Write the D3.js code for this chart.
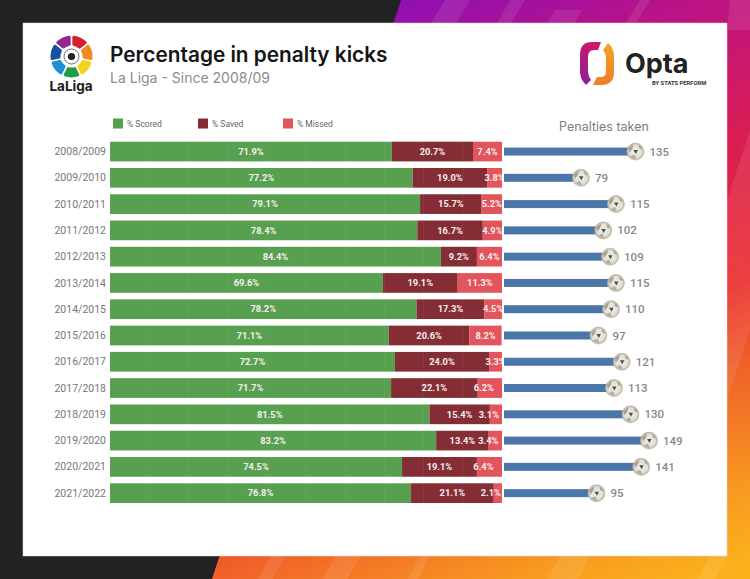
<!DOCTYPE html>
<html>
<head>
<meta charset="utf-8">
<script src="https://cdn.jsdelivr.net/npm/d3@7"></script>
<style>
html, body { margin: 0; padding: 0; background: #222; }
svg { display: block; }
text { font-family: Roboto, sans-serif; }
</style>
</head>
<body>
<div id="chart"></div>
<script>
// data
const seasons = ['2008/2009', '2009/2010', '2010/2011', '2011/2012', '2012/2013', '2013/2014', '2014/2015',
    '2015/2016', '2016/2017', '2017/2018', '2018/2019', '2019/2020', '2020/2021', '2021/2022'];
const scored = [71.9, 77.2, 79.1, 78.4, 84.4, 69.6, 78.2, 71.1, 72.7, 71.7, 81.5, 83.2, 74.5, 76.8];
const saved = [20.7, 19.0, 15.7, 16.7, 9.2, 19.1, 17.3, 20.6, 24.0, 22.1, 15.4, 13.4, 19.1, 21.1];
const missed = [7.4, 3.8, 5.2, 4.9, 6.4, 11.3, 4.5, 8.2, 3.3, 6.2, 3.1, 3.4, 6.4, 2.1];
const penalties = [135, 79, 115, 102, 109, 115, 110, 97, 121, 113, 130, 149, 141, 95];
const legendLabels = ['% Scored', '% Saved', '% Missed'];
const partColors = ['#57a04f', '#852d35', '#e2555c'];

// the labels of these seasons do not sit in the middle of their segment
const missedLabelShift = { '2017/2018': -6, '2018/2019': -7, '2019/2020': -7, '2020/2021': -6, '2021/2022': -7 };

const width = 750, height = 579;
const svg = d3.select('#chart').append('svg').attr('width', width).attr('height', height);
const defs = svg.append('defs');

// background
const bgGrad = defs.append('linearGradient').attr('id', 'bg-grad')
    .attr('gradientUnits', 'userSpaceOnUse')
    .attr('x1', 400).attr('y1', 0).attr('x2', 640).attr('y2', 600);
[[0, '#8f0fb4'], [0.2, '#c0147f'], [0.42, '#dd1f4d'], [0.6, '#ea2c2c'], [0.72, '#f0602a'], [0.9, '#f89a20'], [1, '#fbb01c']]
    .forEach(s => bgGrad.append('stop').attr('offset', s[0]).attr('stop-color', s[1]));

svg.append('rect').attr('width', width).attr('height', height).attr('fill', '#222222');
svg.append('path').attr('d', 'M401,0 L750,0 L750,579 L212,579 Z').attr('fill', 'url(#bg-grad)');

// light streaks in the background
const streaks = ['M445,0 L470,0 L456,23 L431,23 Z', 'M510,0 L525,0 L511,23 L497,23 Z', 'M555,10 L582,10 L575,23 L548,23 Z',
    'M640,0 L650,0 L636,23 L626,23 Z', 'M730,0 L750,0 L750,30 L727,30 Z', 'M727,200 L750,130 L750,330 L727,400 Z',
    'M270,556 L285,556 L273,579 L258,579 Z', 'M335,556 L360,556 L348,579 L323,579 Z', 'M420,556 L430,556 L418,579 L408,579 Z',
    'M560,556 L590,556 L578,579 L548,579 Z', 'M710,556 L727,556 L715,579 L698,579 Z'];
svg.selectAll('path.streak').data(streaks).enter().append('path')
    .attr('class', 'streak').attr('d', d => d).attr('fill', '#fff').attr('opacity', 0.09);

// white panel
svg.append('rect').attr('x', 23).attr('y', 23).attr('width', 704).attr('height', 533)
    .attr('fill', '#fff').attr('stroke', '#ddd').attr('stroke-width', 0.5);

// titles
svg.append('text').attr('x', 110).attr('y', 62).attr('font-size', 20.8).attr('font-weight', 600)
    .style('font-family', 'Inter, sans-serif').attr('fill', '#151515').text('Percentage in penalty kicks');
svg.append('text').attr('x', 110).attr('y', 83).attr('font-size', 14)
    .style('font-family', 'Inter, sans-serif').attr('fill', '#8c8c8c').text('La Liga - Since 2008/09');

// LaLiga logo
const wheelColors = ['#d3202f', '#f08a24', '#f6d21e', '#1f9a48', '#1c8fd6', '#17509f', '#93278f'];
const wheelArc = d3.arc().innerRadius(11).outerRadius(21).padAngle(0.07).cornerRadius(1.5);
const wheelPie = d3.pie().value(1).sort(null).startAngle(0).endAngle(2 * Math.PI);
const wheel = svg.append('g').attr('transform', 'translate(71.5,56.5)');
wheel.selectAll('path').data(wheelPie(wheelColors)).enter().append('path')
    .attr('d', wheelArc).attr('fill', d => d.data);
wheel.append('circle').attr('r', 7.5).attr('fill', '#fff').attr('stroke', '#333').attr('stroke-width', 0.7);
wheel.append('circle').attr('r', 3.6).attr('fill', '#222');
svg.append('text').attr('x', 71).attr('y', 91).attr('text-anchor', 'middle').attr('font-size', 13.5)
    .attr('font-weight', 700).style('font-family', 'Inter, sans-serif').attr('fill', '#1a1a1a').text('LaLiga');

// Opta logo
const optaLeft = defs.append('linearGradient').attr('id', 'opta-left').attr('x1', 0.6).attr('y1', 0).attr('x2', 0.3).attr('y2', 1);
optaLeft.append('stop').attr('offset', 0).attr('stop-color', '#cf1765');
optaLeft.append('stop').attr('offset', 1).attr('stop-color', '#8d1f9b');
const optaRight = defs.append('linearGradient').attr('id', 'opta-right').attr('x1', 0).attr('y1', 0).attr('x2', 0).attr('y2', 1);
optaRight.append('stop').attr('offset', 0).attr('stop-color', '#f6a321');
optaRight.append('stop').attr('offset', 1).attr('stop-color', '#ef7d22');
svg.append('path').attr('fill', 'url(#opta-left)')
    .attr('d', 'M601,42 L592,42 Q580,42 580,55 L580,72 Q580,79 586,85 L591,80 Q588,76 588,71 L588,57 Q588,50 594,50 L598,50 Z');
svg.append('path').attr('fill', 'url(#opta-right)')
    .attr('d', 'M603,50 L608,43 Q614,48 614,57 L614,72 Q614,85 601,85 L593,85 L597,77 L601,77 Q606,77 606,71 L606,57 Q606,53 603,50 Z');
svg.append('text').attr('x', 625).attr('y', 73).attr('font-size', 27).attr('font-weight', 700)
    .style('font-family', 'Inter, sans-serif').attr('fill', '#222').text('Opta');
svg.append('text').attr('x', 652).attr('y', 85).attr('font-size', 5.8).attr('font-weight', 700)
    .attr('fill', '#333').text('BY STATS PERFORM');

// scales
const y = d3.scaleBand().domain(seasons).range([141.7, 503]).paddingInner(0.25).paddingOuter(0);
const x = d3.scaleLinear().domain([0, 100]).range([110, 502]);
const xPen = d3.scaleLinear().domain([0, 149]).range([504, 649]);

// season labels
const yAxis = svg.append('g').attr('transform', 'translate(106,0)').call(d3.axisLeft(y).tickSize(0));
yAxis.select('.domain').remove();
yAxis.selectAll('text').attr('font-size', 10.5).attr('fill', '#777').attr('dy', '0.34em')
    .style('font-family', 'Roboto, sans-serif').attr('x', 0);

// legend
const legendX = d3.scaleOrdinal().domain(legendLabels).range([113, 198, 283]);
const legend = svg.selectAll('g.legend').data(legendLabels).enter().append('g').attr('class', 'legend')
    .attr('transform', d => `translate(${legendX(d)},118.5)`);
legend.append('rect').attr('width', 10).attr('height', 10).attr('fill', (d, i) => partColors[i]);
legend.append('text').attr('x', 14).attr('y', 8.5).attr('font-size', 8.5).attr('fill', '#666').text(d => d);

svg.append('text').attr('x', 604).attr('y', 131).attr('text-anchor', 'middle').attr('font-size', 12.5)
    .style('font-family', 'Inter, sans-serif').attr('fill', '#7d7d7d').text('Penalties taken');

// stacked bars
const rows = seasons.map((s, i) => ({ season: s, scored: scored[i], saved: saved[i], missed: missed[i], penalties: penalties[i] }));
const stack = d3.stack().keys(['scored', 'saved', 'missed']);
const layers = stack(rows);

defs.append('clipPath').attr('id', 'bar-clip').append('rect')
    .attr('x', x(0)).attr('y', 130).attr('width', x(100) - x(0)).attr('height', 390);

layers.forEach((layer, k) => {
    const g = svg.append('g');
    g.selectAll('rect').data(layer).enter().append('rect')
        .attr('x', d => x(d[0]))
        .attr('y', d => y(d.data.season))
        .attr('width', d => x(d[1]) - x(d[0]))
        .attr('height', y.bandwidth())
        .attr('fill', partColors[k]);
});

// faint grid on top of the bars
svg.append('g').selectAll('line').data(x.ticks(10)).enter().append('line')
    .attr('x1', d => x(d)).attr('x2', d => x(d)).attr('y1', 141.7).attr('y2', 503)
    .attr('stroke', '#fff').attr('stroke-opacity', 0.06);

// percentage labels, clipped at the end of the bar like the original
const labelGroup = svg.append('g').attr('clip-path', 'url(#bar-clip)');
layers.forEach((layer, k) => {
    labelGroup.append('g').selectAll('text').data(layer).enter().append('text')
        .attr('x', d => {
            const shift = k === 2 ? (missedLabelShift[d.data.season] || 0) : 0;
            return (x(d[0]) + x(d[1])) / 2 + shift;
        })
        .attr('y', d => y(d.data.season) + y.bandwidth() / 2)
        .attr('dy', '0.35em')
        .attr('text-anchor', 'middle')
        .attr('font-size', 9.3)
        .attr('font-weight', 700)
        .attr('fill', '#f6eeee')
        .text(d => d.data[layer.key].toFixed(1) + '%');
});

// penalties taken
const ballGrad = defs.append('radialGradient').attr('id', 'ball-grad');
ballGrad.append('stop').attr('offset', 0).attr('stop-color', '#f0eee8');
ballGrad.append('stop').attr('offset', 0.75).attr('stop-color', '#e2ded3');
ballGrad.append('stop').attr('offset', 1).attr('stop-color', '#b3ad9e');

const pen = svg.selectAll('g.pen').data(rows).enter().append('g').attr('class', 'pen')
    .attr('transform', d => `translate(0,${y(d.season) + y.bandwidth() / 2})`);
pen.append('rect').attr('x', xPen(0)).attr('y', -4)
    .attr('width', d => xPen(d.penalties) - xPen(0)).attr('height', 8).attr('fill', '#4a76a8');
const ball = pen.append('g').attr('transform', d => `translate(${xPen(d.penalties)},0)`);
ball.append('circle').attr('r', 8.5).attr('fill', 'url(#ball-grad)').attr('stroke', '#b9b4a6').attr('stroke-width', 0.6);
// patches of the ball
ball.append('path').attr('d', 'M-7,-3 Q-4,-6 -2,-7 L-3,-3 L-6,1 Z').attr('fill', '#a89f8c');
ball.append('path').attr('d', 'M3,-7 Q6,-5 7,-2 L4,-3 Z').attr('fill', '#a89f8c');
ball.append('path').attr('d', 'M-5,5 L-1,3 L1,7 Q-2,8 -5,5 Z').attr('fill', '#b5ac99');
ball.append('path').attr('d', 'M-2,-1.5 L2.5,-1.5 L0.5,2.5 Z').attr('fill', '#3f5257');
pen.append('text').attr('x', d => xPen(d.penalties) + 14).attr('dy', '0.35em')
    .attr('font-size', 11.5).attr('font-weight', 500).attr('fill', '#888').text(d => d.penalties);
</script>
</body>
</html>
